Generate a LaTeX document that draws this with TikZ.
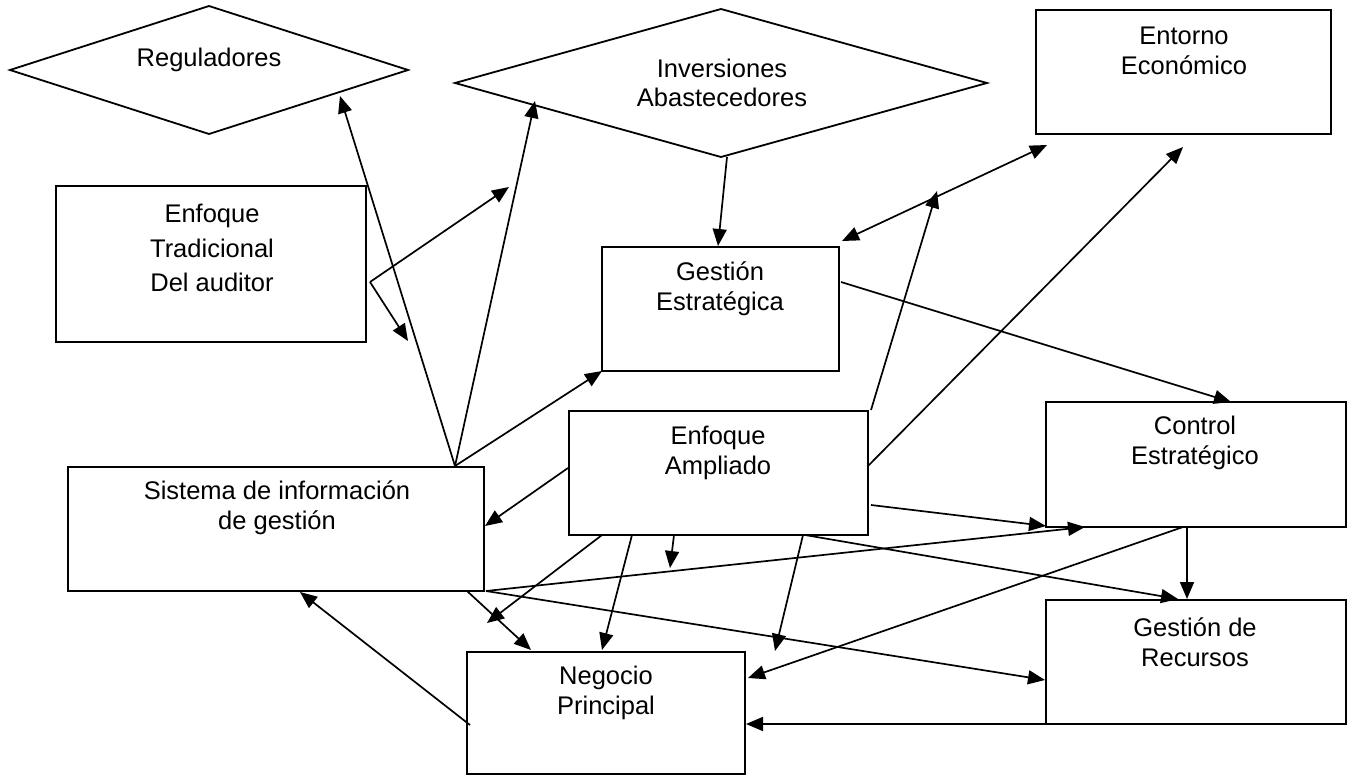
\documentclass[tikz,border=0pt]{standalone}
\usepackage{fontspec}
\setmainfont{Liberation Sans}
\usetikzlibrary{shapes.geometric,arrows.meta}

\tikzset{
  box/.style={draw, line width=1.8pt, inner sep=0pt, outer sep=0pt},
  rhomb/.style={draw, diamond, line width=1.8pt, inner sep=0pt, outer sep=0pt},
  lbl/.style={align=center, inner sep=0pt, font=\fontsize{25.5pt}{29.5pt}\selectfont},
  arr/.style={line width=1.7pt, -{Triangle[length=17pt,width=14pt]}},
  dbl/.style={line width=1.7pt, {Triangle[length=17pt,width=14pt]}-{Triangle[length=17pt,width=14pt]}}
}

\begin{document}
\begin{tikzpicture}[x=1pt,y=-1pt]
\useasboundingbox (0,0) rectangle (1352,776);

% diamonds
\node[rhomb, minimum width=398pt, minimum height=128pt] (reg) at (209,70) {};
\node[lbl] (regT) at (209,60) {Reguladores};
\node[rhomb, minimum width=532pt, minimum height=148pt] (inv) at (721,83) {};
\node[lbl, font=\fontsize{25.5pt}{29pt}\selectfont] (invT) at (722,83) {Inversiones\\Abastecedores};

% boxes
\node[box, minimum width=295pt, minimum height=124pt] (ent) at (1183.5,72) {};
\node[lbl] (entT) at (1184,51) {Entorno\\Económico};
\node[box, minimum width=310pt, minimum height=156pt] (trad) at (211,264) {};
\node[lbl, font=\fontsize{25.5pt}{34.5pt}\selectfont] (tradT) at (212,248) {Enfoque\\Tradicional\\Del auditor};
\node[box, minimum width=237pt, minimum height=124pt] (gest) at (720.5,309) {};
\node[lbl] (gestT) at (720,289) {Gestión\\Estratégica};
\node[box, minimum width=299pt, minimum height=124pt] (amp) at (718.5,473) {};
\node[lbl] (ampT) at (718,453) {Enfoque\\Ampliado};
\node[box, minimum width=300pt, minimum height=125pt] (ctrl) at (1196,464.5) {};
\node[lbl] (ctrlT) at (1195,443) {Control\\Estratégico};
\node[box, minimum width=416pt, minimum height=124pt] (sig) at (276,529) {};
\node[lbl] (sigT) at (277,508) {Sistema de información\\de gestión};
\node[box, minimum width=300pt, minimum height=124pt] (rec) at (1196,662) {};
\node[lbl] (recT) at (1195,642) {Gestión de\\Recursos};
\node[box, minimum width=278pt, minimum height=122pt] (neg) at (606,713) {};
\node[lbl] (negT) at (606,693) {Negocio\\Principal};

% connector end points
\coordinate (sigTop) at (455,466);
\coordinate (regIn) at (340,96);
\coordinate (invIn) at (535,101);
\coordinate (tradOut) at (370,282);
\coordinate (tradUp) at (509,187);
\coordinate (tradDn) at (408,341);
\coordinate (invBot) at (727,157);
\coordinate (gestTop) at (718,246);
\coordinate (gestNE) at (842,241);
\coordinate (entSW) at (1047,145);
\coordinate (ampNE) at (871,410);
\coordinate (dblMid) at (937,191);
\coordinate (ampE) at (868,466);
\coordinate (entS) at (1183,147);
\coordinate (gestE) at (841,282);
\coordinate (ctrlN) at (1231,402);
\coordinate (ampSE) at (871,505);
\coordinate (ctrlSW) at (1046,526);
\coordinate (sigSE) at (486,591);
\coordinate (ctrlS) at (1085,527);
\coordinate (ampS1) at (805,535);
\coordinate (recN1) at (1178,599);
\coordinate (ctrlS2) at (1187,527);
\coordinate (recN2) at (1187,599);
\coordinate (ctrlS3) at (1183,527);
\coordinate (negE) at (748,678);
\coordinate (recW) at (1045,680);
\coordinate (sigS) at (467,591);
\coordinate (negN1) at (531,650);
\coordinate (ampSW) at (602,535);
\coordinate (freeA) at (487,623);
\coordinate (ampS2) at (632,535);
\coordinate (negN2) at (602,650);
\coordinate (ampS3) at (674,535);
\coordinate (freeB) at (670,568);
\coordinate (ampS4) at (803,535);
\coordinate (freeC) at (775,651);
\coordinate (ampW) at (568,468);
\coordinate (sigE) at (485,526);
\coordinate (negW) at (470,725);
\coordinate (sigS2) at (300,592);
\coordinate (negE2) at (746,724);

% connectors
\draw[arr] (sigTop) -- (regIn);
\draw[arr] (sigTop) -- (invIn);
\draw[arr] (sigTop) -- (gest.south west);
\draw[arr] (tradOut) -- (tradUp);
\draw[arr] (tradOut) -- (tradDn);
\draw[arr] (invBot) -- (gestTop);
\draw[dbl] (gestNE) -- (entSW);
\draw[arr] (ampNE) -- (dblMid);
\draw[arr] (ampE) -- (entS);
\draw[arr] (gestE) -- (ctrlN);
\draw[arr] (ampSE) -- (ctrlSW);
\draw[arr] (sigSE) -- (ctrlS);
\draw[arr] (ampS1) -- (recN1);
\draw[arr] (ctrlS2) -- (recN2);
\draw[arr] (ctrlS3) -- (negE);
\draw[arr] (sigSE) -- (recW);
\draw[arr] (sigS) -- (negN1);
\draw[arr] (ampSW) -- (freeA);
\draw[arr] (ampS2) -- (negN2);
\draw[arr] (ampS3) -- (freeB);
\draw[arr] (ampS4) -- (freeC);
\draw[arr] (ampW) -- (sigE);
\draw[arr] (negW) -- (sigS2);
\draw[arr] (rec.south west) -- (negE2);
\end{tikzpicture}
\end{document}
